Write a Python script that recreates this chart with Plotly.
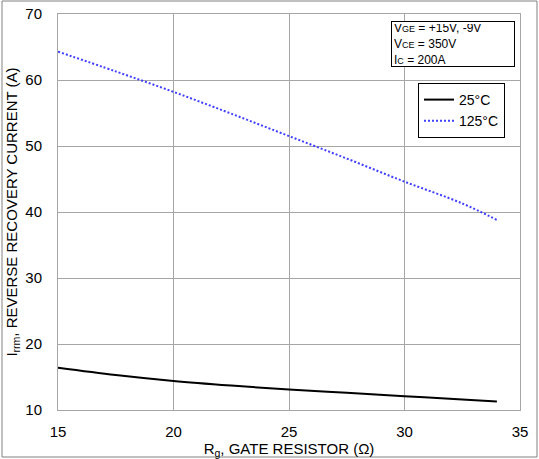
import plotly.graph_objects as go

rg = [15, 17.5, 20, 22.5, 25, 27.5, 30, 32.5, 34]
irrm_25c = [16.4, 15.3, 14.4, 13.7, 13.1, 12.6, 12.1, 11.6, 11.3]
irrm_125c = [64.3, 61.3, 58.2, 54.9, 51.5, 48.1, 44.6, 41.3, 38.8]

x_ticks = [15, 20, 25, 30, 35]
y_ticks = [10, 20, 30, 40, 50, 60, 70]

W, H = 539, 459
L, R, T, B = 58, 19, 14, 49
pw, ph = W - L - R, H - T - B

fig = go.Figure()
fig.add_trace(go.Scatter(x=rg, y=irrm_25c, mode="lines", name="25°C",
                         line=dict(color="black", width=2, shape="spline")))
fig.add_trace(go.Scatter(x=rg, y=irrm_125c, mode="lines", name="125°C",
                         line=dict(color="#4040ff", width=2, dash="2px,2px", shape="spline")))

font = "Liberation Sans, Arial, sans-serif"
fig.update_layout(
    width=W, height=H,
    margin=dict(l=L, r=R, t=T, b=B, autoexpand=False),
    paper_bgcolor="white", plot_bgcolor="white",
    font=dict(family=font, color="black", size=14),
    legend=dict(x=(418 - L) / pw, y=1 - (83 - T) / ph, xanchor="left", yanchor="top",
                bordercolor="black", borderwidth=1, bgcolor="white",
                font=dict(size=14), tracegroupgap=0, itemwidth=30),
    showlegend=True,
)
fig.update_xaxes(range=[15, 35], tickvals=x_ticks, showgrid=True, gridcolor="#a6a6a6",
                 gridwidth=1, showline=True, linecolor="#a6a6a6", mirror=True,
                 ticks="", zeroline=False, tickfont=dict(size=15), automargin=False,
                 ticklabelstandoff=8,
                 title=dict(text="R<sub>g</sub>, GATE RESISTOR (Ω)", font=dict(size=15), standoff=2))
fig.update_yaxes(range=[10, 70], tickvals=y_ticks, showgrid=True, gridcolor="#a6a6a6",
                 gridwidth=1, showline=True, linecolor="#a6a6a6", mirror=True,
                 ticks="", zeroline=False, tickfont=dict(size=15), automargin=False,
                 ticklabelstandoff=12,
                 title=dict(text="I<sub>rrm</sub>, REVERSE RECOVERY CURRENT (A)", font=dict(size=15), standoff=4))

fig.add_annotation(
    xref="paper", yref="paper", x=(391 - L) / pw, y=1 - (21 - T) / ph,
    xanchor="left", yanchor="top", align="left", valign="middle", showarrow=False,
    width=118, height=40,
    text="V<span style='font-size:9px'>GE</span> = +15V, -9V<br>"
         "V<span style='font-size:9px'>CE</span> = 350V<br>"
         "I<span style='font-size:9px'>C</span> = 200A",
    font=dict(size=12), bgcolor="white", bordercolor="black", borderwidth=1, borderpad=2,
)

# outer frame of the image
fig.add_shape(type="rect", xref="paper", yref="paper",
              x0=(2 - L) / pw, x1=(537 - L) / pw, y0=1 - (457 - T) / ph, y1=1 - (1 - T) / ph,
              line=dict(color="#808080", width=1), layer="below")

fig.write_html("out.html", config={"displayModeBar": False},
               post_script="document.body.style.margin='0';")
